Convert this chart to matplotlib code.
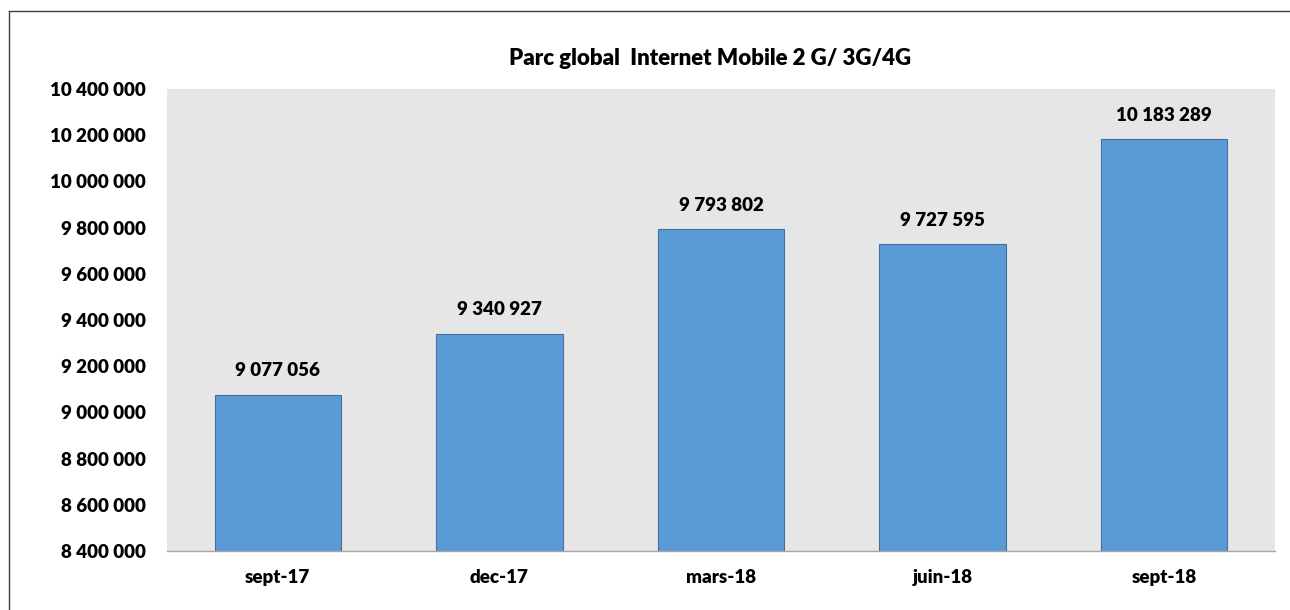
import matplotlib
matplotlib.use("Agg")
import matplotlib.pyplot as plt
from matplotlib.ticker import FuncFormatter

plt.rcParams['font.family'] = ['Lato', 'DejaVu Sans']

# data
categories = ['sept-17', 'dec-17', 'mars-18', 'juin-18', 'sept-18']
values = [9077056, 9340927, 9793802, 9727595, 10183289]
yticks = [8400000, 8600000, 8800000, 9000000, 9200000, 9400000,
          9600000, 9800000, 10000000, 10200000, 10400000]


def spaced(v):
    return f"{int(v):,}".replace(",", " ")


fig = plt.figure(figsize=(12.9, 6.1), dpi=100)
ax = fig.add_axes([167 / 1290, 1 - 551 / 610, (1275 - 167) / 1290, (551 - 89) / 610])
ax.set_facecolor('#E6E6E6')

x = range(len(categories))
ax.bar(x, values, width=0.57, color='#5B9BD5', edgecolor='#41719C', linewidth=0.8, zorder=2)

for i, v in enumerate(values):
    ax.annotate(spaced(v), (i, v), xytext=(0, 11), textcoords='offset points',
                ha='center', va='bottom', fontsize=13.5, fontweight='heavy')

ax.set_xlim(-0.5, len(categories) - 0.5)
ax.set_ylim(yticks[0], yticks[-1])
ax.set_yticks(yticks)
ax.yaxis.set_major_formatter(FuncFormatter(lambda v, p: spaced(v)))
ax.set_xticks(list(x))
ax.set_xticklabels(categories)
ax.tick_params(axis='both', length=0, labelsize=13.5)
ax.tick_params(axis='x', pad=13)
ax.tick_params(axis='y', pad=15)
for lab in ax.get_xticklabels() + ax.get_yticklabels():
    lab.set_fontweight('heavy')

for s in ['top', 'right', 'left']:
    ax.spines[s].set_visible(False)
ax.spines['bottom'].set_color('#A6A6A6')
ax.spines['bottom'].set_linewidth(1)

ax.set_title('Parc global  Internet Mobile 2 G/ 3G/4G', fontsize=16, fontweight='heavy', pad=17, x=0.49)

# outer frame of the chart area
fig.add_artist(plt.Line2D([9 / 1290, 9 / 1290], [0, 1 - 11 / 610], transform=fig.transFigure, color='#404040', lw=1))
fig.add_artist(plt.Line2D([9 / 1290, 1], [1 - 11 / 610, 1 - 11 / 610], transform=fig.transFigure, color='#404040', lw=1))

fig.savefig('out.png', dpi=100)
